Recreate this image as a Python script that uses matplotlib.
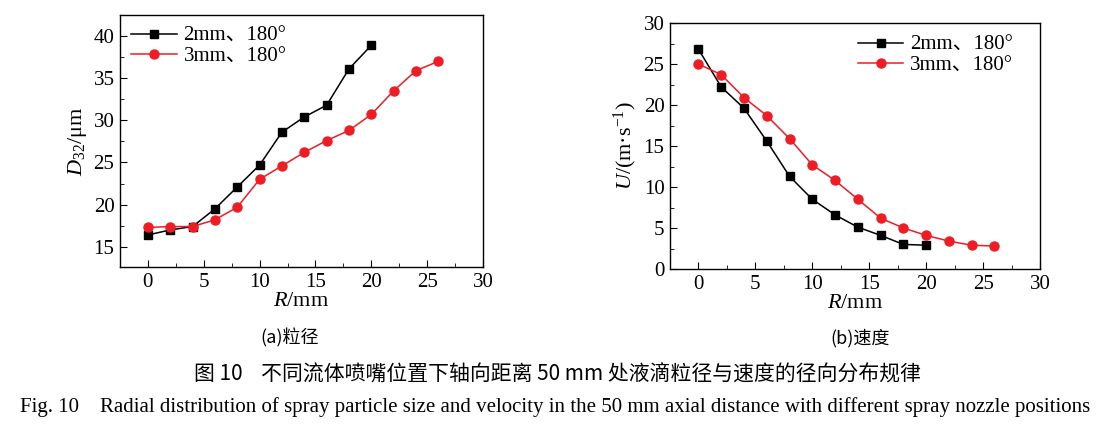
import matplotlib
matplotlib.use("Agg")
import matplotlib.pyplot as plt
from matplotlib.ticker import MultipleLocator

SERIF = ["Liberation Serif", "Noto Sans CJK SC"]
CJK = ["Noto Sans CJK SC", "Liberation Serif"]
plt.rcParams["font.family"] = SERIF
plt.rcParams["mathtext.fontset"] = "custom"
plt.rcParams["mathtext.rm"] = "Liberation Serif"
plt.rcParams["mathtext.it"] = "Liberation Serif:italic"

# ── data ──────────────────────────────────────────────
r_2mm = [0, 2, 4, 6, 8, 10, 12, 14, 16, 18, 20]
r_3mm = [0, 2, 4, 6, 8, 10, 12, 14, 16, 18, 20, 22, 24, 26]

d32_2mm = [16.4, 17.0, 17.4, 19.5, 22.1, 24.7, 28.6, 30.4, 31.8, 36.1, 38.9]
d32_3mm = [17.3, 17.4, 17.4, 18.2, 19.7, 23.0, 24.6, 26.2, 27.6, 28.8, 30.7,
           33.5, 35.9, 37.0]

u_2mm = [26.8, 22.2, 19.6, 15.6, 11.3, 8.5, 6.6, 5.1, 4.1, 3.0, 2.9]
u_3mm = [25.0, 23.7, 20.9, 18.7, 15.9, 12.7, 10.8, 8.5, 6.2, 5.0, 4.1,
         3.4, 2.9, 2.8]

labels = ["2mm、180°", "3mm、180°"]

fig = plt.figure(figsize=(11.14, 4.30), dpi=100)
W, H = 1114, 430


def axes_px(x0, y0, x1, y1):
    return fig.add_axes([x0 / W, 1 - y1 / H, (x1 - x0) / W, (y1 - y0) / H])


def style(ax):
    ax.tick_params(which="both", direction="in", top=False, right=False,
                   labelsize=15)
    ax.tick_params(which="major", length=5, pad=4)
    ax.tick_params(which="minor", length=3)
    ax.xaxis.set_major_locator(MultipleLocator(5))
    ax.xaxis.set_minor_locator(MultipleLocator(2.5))
    ax.set_xlim(-2.5, 30)
    for s in ax.spines.values():
        s.set_linewidth(1.0)
    ax.set_xlabel("$R$/mm", fontsize=16, labelpad=0)


def draw(ax, y2, y3):
    ax.plot(r_2mm, y2, color="black", marker="s", ms=6, lw=1.1, label=labels[0])
    ax.plot(r_3mm, y3, color="#ee1c24", marker="o", ms=6.5, lw=1.1, label=labels[1])


# ── (a) particle size ─────────────────────────────────
ax1 = axes_px(120, 15, 483, 267)
draw(ax1, d32_2mm, d32_3mm)
style(ax1)
ax1.set_ylim(12.6, 42.5)
ax1.yaxis.set_major_locator(MultipleLocator(5))
ax1.yaxis.set_minor_locator(MultipleLocator(2.5))
ax1.set_ylabel("$D_{32}$/μm", fontsize=16, labelpad=3)
ax1.legend(loc="upper left", frameon=False, handlelength=2.2,
           handletextpad=0.3, labelspacing=0.05, borderaxespad=0.15,
           prop={"family": SERIF, "size": 15})

# ── (b) velocity ──────────────────────────────────────
ax2 = axes_px(670, 23, 1040, 269)
draw(ax2, u_2mm, u_3mm)
style(ax2)
ax2.set_ylim(0, 30)
ax2.yaxis.set_major_locator(MultipleLocator(5))
ax2.yaxis.set_minor_locator(MultipleLocator(2.5))
ax2.set_ylabel("$U$/(m·s$^{-1}$)", fontsize=16, labelpad=3)
ax2.legend(loc="upper right", frameon=False, handlelength=2.2,
           handletextpad=0.3, labelspacing=0.05, borderaxespad=0.2,
           bbox_to_anchor=(0.96, 1.0),
           prop={"family": SERIF, "size": 15})

# ── captions ──────────────────────────────────────────
fig.text(290 / W, 1 - 338 / H, "(a)粒径", ha="center", va="center",
         fontsize=13, family=CJK)
fig.text(860 / W, 1 - 338 / H, "(b)速度", ha="center", va="center",
         fontsize=13, family=CJK)
fig.text(557 / W, 1 - 375 / H,
         "图 10    不同流体喷嘴位置下轴向距离 50 mm 处液滴粒径与速度的径向分布规律",
         ha="center", va="center", fontsize=15, family=CJK)
fig.text(555 / W, 1 - 407 / H,
         "Fig. 10    Radial distribution of spray particle size and velocity in the "
         "50 mm axial distance with different spray nozzle positions",
         ha="center", va="center", fontsize=15, family=SERIF)

fig.savefig("out.png", dpi=100)
